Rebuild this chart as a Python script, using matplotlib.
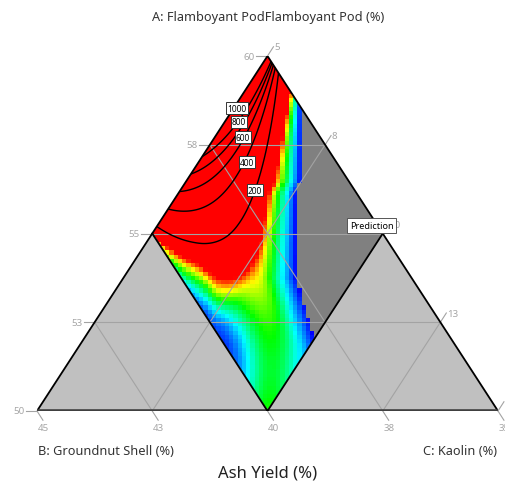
import numpy as np
import matplotlib.pyplot as plt
from matplotlib.colors import LinearSegmentedColormap
from matplotlib.patches import Polygon

plt.rcParams['font.family'] = ['Noto Sans', 'DejaVu Sans']

# simplex ranges (%)
A_RANGE = (50, 60)   # Flamboyant Pod
B_RANGE = (35, 45)   # Groundnut Shell
C_RANGE = (5, 15)    # Kaolin

a_ticks = [50, 52.5, 55, 57.5, 60]
b_ticks = [45, 42.5, 40, 37.5, 35]
c_ticks = [5, 7.5, 10, 12.5, 15]

# constrained design space
b_space = (35, 40)
c_space = (5, 10)

# ash yield model, in pseudo components p (B) and q (C)
edge_coef = [2150, -2030]                  # level along C = 5 %
decay_coef = [0.04, 0.31, -0.12, 10]       # decay length away from C = 5 %
curve_coef = [4.0, 8]                      # extra quadratic decay near B = 40 %
blob_coef = [130, 1.35, -0.39, 4.0, 1.9, 0.068]  # height, centre z, centre x, left / right spread, edge
ridge_coef = [55, 0.95, 0.02, 0.18]        # slope, start, centre, width
limit_z = [0.0, 0.70, 0.78, 1.25, 1.56, 2.0]
limit_x = [0.29, 0.29, 0.248, 0.248, 0.39, 0.59]
ramp_coef = [70, 30, 0.27, 0.75]

contour_levels = [200, 400, 600, 800, 1000]
color_range = (0, 110)


def to_xy(A, C):
    a = (A - A_RANGE[0]) / (A_RANGE[1] - A_RANGE[0])
    c = (C - C_RANGE[0]) / (C_RANGE[1] - C_RANGE[0])
    return c + a / 2, a


def pseudo(x, y):
    A = A_RANGE[0] + y * (A_RANGE[1] - A_RANGE[0])
    C = C_RANGE[0] + (x - y / 2) * (C_RANGE[1] - C_RANGE[0])
    B = 100 - A - C
    p = (B - b_space[0]) / (b_space[1] - b_space[0])
    q = (C - c_space[0]) / (c_space[1] - c_space[0])
    return p, q


def ash_yield(p, q):
    s = q - p
    z = p + q
    F = edge_coef[0] + edge_coef[1] * p
    L = decay_coef[0] + decay_coef[1] * p + decay_coef[2] * p ** decay_coef[3]
    y_edge = F * np.exp(-q / L - curve_coef[0] * p ** curve_coef[1] * q ** 2)

    h, zc0, xc, kl, kr, w = blob_coef
    k = np.where(s < xc, kl, kr)
    zc = zc0 - k * (s - xc) ** 2
    y_blob = h / (1 + np.exp((z - zc) / w))

    y_int = (y_edge ** 6 + y_blob ** 6) ** (1 / 6)
    y_int = y_int + ridge_coef[0] * np.clip(z - ridge_coef[1], 0, None) * \
        np.exp(-0.5 * ((s - ridge_coef[2]) / ridge_coef[3]) ** 2)

    d = np.interp(z, limit_z, limit_x) - s
    u = np.clip(d, 0, None) / (ramp_coef[2] * np.maximum(z, 1e-3) ** ramp_coef[3])
    y_ramp = ramp_coef[0] * u + ramp_coef[1] * u ** 4
    y = (np.maximum(y_int, 1e-9) ** -10.0 + np.maximum(y_ramp, 1e-9) ** -10.0) ** (-1 / 10)
    return np.where(d > 0, y, -1.0)


fig = plt.figure(figsize=(5.06, 4.85), dpi=100)
ax = fig.add_axes([37 / 506, 73 / 485, 461 / 506, 355 / 485])
ax.set_xlim(0, 1)
ax.set_ylim(0, 1)
ax.axis('off')

grid_c = '#a3a3a3'
label_c = '#a6a6a6'

# outer simplex
tri = [to_xy(A_RANGE[0], C_RANGE[0]), to_xy(A_RANGE[0], C_RANGE[1]), to_xy(A_RANGE[1], C_RANGE[0])]
ax.add_patch(Polygon(tri, closed=True, fc='#c0c0c0', ec='none', zorder=0))

# design space
corners = [(b_space[0], c_space[0]), (b_space[1], c_space[0]),
           (b_space[1], c_space[1]), (b_space[0], c_space[1])]
rhombus_xy = [to_xy(100 - b - c, c) for b, c in corners]
rhombus = Polygon(rhombus_xy, closed=True, transform=ax.transData)

cmap = LinearSegmentedColormap.from_list('bgr', ['#0000ff', '#00ffff', '#00ff00', '#ffff00', '#ff0000'])
cmap.set_under('#808080')
cmap.set_bad((0, 0, 0, 0))

nx, ny = 108, 84
gx, gy = np.meshgrid((np.arange(nx) + 0.5) / nx, (np.arange(ny) + 0.5) / ny)
gp, gq = pseudo(gx, gy)
inside = (gp > -0.08) & (gp < 1.08) & (gq > -0.08) & (gq < 1.08)
cells = np.where(inside, ash_yield(np.clip(gp, 0, 1), np.clip(gq, 0, 1)), np.nan)
im = ax.imshow(cells, extent=(0, 1, 0, 1), origin='lower', cmap=cmap,
               vmin=color_range[0], vmax=color_range[1],
               interpolation='nearest', aspect='auto', zorder=1)
im.set_clip_path(rhombus)

# grid lines
for A in a_ticks[1:-1]:
    ax.plot(*zip(to_xy(A, C_RANGE[0]), to_xy(A, 100 - A - B_RANGE[0])), color=grid_c, lw=0.8, zorder=2)
for B in b_ticks[1:-1]:
    ax.plot(*zip(to_xy(A_RANGE[0], 100 - A_RANGE[0] - B), to_xy(100 - B - C_RANGE[0], C_RANGE[0])),
            color=grid_c, lw=0.8, zorder=2)
for C in c_ticks[1:-1]:
    ax.plot(*zip(to_xy(A_RANGE[0], C), to_xy(100 - C - B_RANGE[0], C)), color=grid_c, lw=0.8, zorder=2)

# contours of the response
fx = np.linspace(0, 1, 600)
FX, FY = np.meshgrid(fx, fx)
fp, fq = pseudo(FX, FY)
fin = (fp > -0.02) & (fp < 1.02) & (fq > -0.02) & (fq < 1.02)
fz = np.where(fin, ash_yield(np.clip(fp, 0, 1), np.clip(fq, 0, 1)), np.nan)
cs = ax.contour(FX, FY, fz, levels=contour_levels, colors='black', linewidths=1.0, zorder=3)
cs.set_clip_path(rhombus)

label_pos = [(0.4338, 0.8535), (0.4382, 0.8141), (0.4469, 0.7718), (0.4555, 0.7014), (0.4729, 0.6225)]
for lev, (lx, ly) in zip(contour_levels[::-1], label_pos):
    ax.text(lx, ly, f'{lev}', fontsize=6, ha='center', va='center', zorder=5,
            bbox=dict(boxstyle='square,pad=0.15', fc='white', ec='#333333', lw=0.7))

# edges of the simplex and of the design space
ax.plot(*zip(tri[0], tri[2], tri[1]), color='black', lw=1.3, zorder=4, solid_capstyle='butt')
ax.plot(*zip(tri[0], tri[1]), color='#404040', lw=2.6, zorder=4, solid_capstyle='butt')
ax.plot(*zip(rhombus_xy[1], rhombus_xy[2], rhombus_xy[3]), color='black', lw=1.3, zorder=4)

# tick marks and labels
tx, ty = 11 / 461, 11 / 355
fmt = lambda v: f'{int(np.floor(v + 0.5))}'
for A in a_ticks:
    x0, y0 = to_xy(A, C_RANGE[0])
    ax.plot([x0, x0 - tx], [y0, y0], color=grid_c, lw=0.8, clip_on=False)
    ax.text(x0 - tx - 0.003, y0, fmt(A), color=label_c, fontsize=7, ha='right', va='center')
for B in b_ticks:
    x0, y0 = to_xy(A_RANGE[0], 100 - A_RANGE[0] - B)
    ax.plot([x0, x0 + 0.54 * tx], [y0, y0 - 0.84 * ty], color=grid_c, lw=0.8, clip_on=False)
    ax.text(x0 + 0.54 * tx, y0 - 0.84 * ty - 0.008, fmt(B), color=label_c, fontsize=7, ha='center', va='top')
for C in c_ticks:
    x0, y0 = to_xy(100 - C - B_RANGE[0], C)
    ax.plot([x0, x0 + 0.54 * tx], [y0, y0 + 0.84 * ty], color=grid_c, lw=0.8, clip_on=False)
    ax.text(x0 + 0.54 * tx + 0.002, y0 + 0.84 * ty, fmt(C), color=label_c, fontsize=7, ha='left', va='center')

ax.annotate('Prediction', xy=to_xy(55, 10), xytext=(-11, 8), textcoords='offset pixels',
            fontsize=6.5, ha='center', va='center', zorder=6,
            bbox=dict(boxstyle='square,pad=0.3', fc='white', ec='#555555', lw=0.7))

fig.text(268 / 506, 1 - 17 / 485, 'A: Flamboyant PodFlamboyant Pod (%)', fontsize=9.2,
         color='#333333', ha='center', va='center')
fig.text(38 / 506, 1 - 452 / 485, 'B: Groundnut Shell (%)', fontsize=9.2, color='#333333', ha='left', va='center')
fig.text(497 / 506, 1 - 452 / 485, 'C: Kaolin (%)', fontsize=9.2, color='#333333', ha='right', va='center')
fig.text(268 / 506, 1 - 474 / 485, 'Ash Yield (%)', fontsize=12, color='#222222', ha='center', va='center')

fig.savefig('out.png', dpi=100)
